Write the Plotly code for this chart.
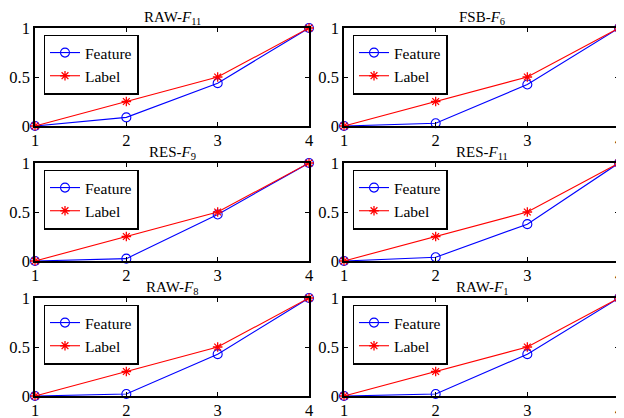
import plotly.graph_objects as go

x_vals = [1, 2, 3, 4]
titles = ["RAW-<i>F</i><sub>11</sub>", "FSB-<i>F</i><sub>6</sub>",
          "RES-<i>F</i><sub>9</sub>", "RES-<i>F</i><sub>11</sub>",
          "RAW-<i>F</i><sub>8</sub>", "RAW-<i>F</i><sub>1</sub>"]
feature_raw_f11 = [0, 0.088, 0.437, 1]
feature_fsb_f6 = [0, 0.028, 0.424, 1]
feature_res_f9 = [0, 0.024, 0.475, 1]
feature_res_f11 = [0, 0.038, 0.376, 1]
feature_raw_f8 = [0, 0.02, 0.427, 1]
feature_raw_f1 = [0, 0.02, 0.427, 1]
label_vals = [0, 0.25, 0.5, 1]
features = [feature_raw_f11, feature_fsb_f6, feature_res_f9,
            feature_res_f11, feature_raw_f8, feature_raw_f1]

OFF = 8  # page body margin
W, H = 624 - OFF, 418 - OFF
FONT = "Liberation Serif"
col_px = [(35, 309), (344, 619)]
row_px = [(28, 126), (163, 261), (298, 396)]

fig = go.Figure()
layout = dict(width=W, height=H, margin=dict(l=0, r=0, t=0, b=0, autoexpand=False),
              template="none",
              paper_bgcolor="white", plot_bgcolor="white",
              font=dict(family=FONT, size=16, color="black"),
              annotations=[])

for i in range(6):
    r, c = divmod(i, 2)
    n = i + 1
    sfx = "" if n == 1 else str(n)
    x0, x1 = [v - OFF for v in col_px[c]]
    y0, y1 = [v - OFF for v in row_px[r]]
    leg = "legend" if n == 1 else f"legend{n}"
    fig.add_trace(go.Scatter(
        x=x_vals, y=features[i], name="Feature", mode="lines+markers",
        line=dict(color="#0000FF", width=1.1),
        marker=dict(symbol="circle-open", size=9, color="#0000FF", line=dict(width=1.1)),
        xaxis="x" + sfx, yaxis="y" + sfx, legend=leg, cliponaxis=False))
    fig.add_trace(go.Scatter(
        x=x_vals, y=label_vals, name="Label", mode="lines+markers",
        line=dict(color="#FF0000", width=1.1),
        marker=dict(symbol="asterisk-open", size=8, color="#FF0000", line=dict(width=1.3, color="#FF0000")),
        xaxis="x" + sfx, yaxis="y" + sfx, legend=leg, cliponaxis=False))
    axcommon = dict(showgrid=False, zeroline=False, showline=True, linecolor="black",
                    linewidth=1.5, mirror="ticks", ticks="inside", ticklen=4,
                    tickcolor="black", tickwidth=1, automargin=False,
                    tickfont=dict(family=FONT, size=16.5, color="black"))
    layout["xaxis" + sfx] = dict(domain=[x0 / W, x1 / W], range=[1, 4],
                                 tickvals=x_vals, ticktext=["1", "2", "3", "4"],
                                 ticklabelstandoff=-2,
                                 anchor="y" + sfx, **axcommon)
    layout["yaxis" + sfx] = dict(domain=[1 - y1 / H, 1 - y0 / H], range=[0, 1],
                                 tickvals=[0, 0.5, 1], ticktext=["0", "0.5", "1"],
                                 anchor="x" + sfx, **axcommon)
    layout[leg] = dict(x=(x0 + 8.5) / W, y=1 - (y0 + 6.5) / H, xanchor="left", yanchor="top",
                       bordercolor="black", borderwidth=1.5, bgcolor="white",
                       font=dict(family=FONT, size=15.5, color="black"), tracegroupgap=0)
    layout["annotations"].append(dict(
        text=titles[i], x=(x0 + x1) / 2 / W, y=1 - y0 / H, xref="paper", yref="paper",
        xanchor="center", yanchor="bottom", showarrow=False,
        font=dict(family=FONT, size=15, color="black"), yshift=-1))

fig.update_layout(**layout)
fig.write_html("out.html")
